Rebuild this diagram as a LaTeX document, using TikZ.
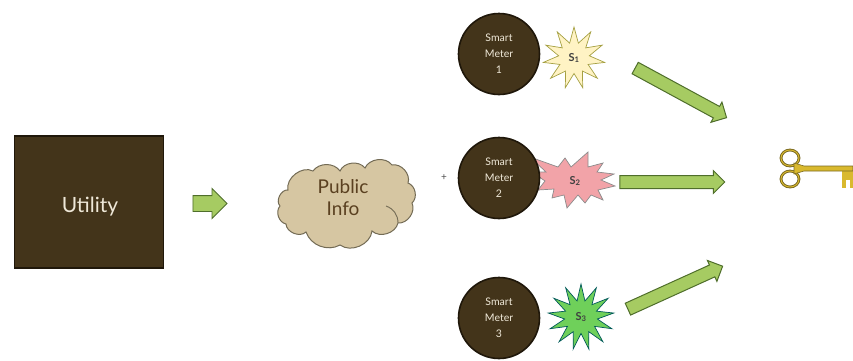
\documentclass[tikz,border=0pt]{standalone}
\usepackage{fontspec}
\setmainfont{Lato}
\usetikzlibrary{shapes.geometric,shapes.arrows}
\definecolor{brownbox}{HTML}{43341A}
\definecolor{brownline}{HTML}{1F170A}
\definecolor{arrowfill}{HTML}{A6CB62}
\definecolor{arrowline}{HTML}{4F6E2B}
\definecolor{cloudfill}{HTML}{D6C6A2}
\definecolor{cloudline}{HTML}{736B55}
\definecolor{cloudtext}{HTML}{5A4020}
\definecolor{metertext}{HTML}{EFE8D8}
\definecolor{keygold}{HTML}{D9B92E}
\definecolor{keydark}{HTML}{7A6A22}
\definecolor{burstone}{HTML}{FFF3C4}
\definecolor{bursttwo}{HTML}{F2A3A8}
\definecolor{burstthree}{HTML}{6FD05A}
\tikzset{
  meter/.style={circle,draw=brownline,line width=1.6pt,fill=brownbox,minimum size=81pt,inner sep=0pt,
    text=metertext,align=center,font=\fontsize{10.5}{16}\selectfont},
  bigarrow/.style={single arrow,draw=arrowline,line width=1pt,fill=arrowfill,inner sep=6pt,
    minimum width=21pt,single arrow head extend=5pt,single arrow head indent=0pt,minimum height=104pt,anchor=center},
  burst/.style={star,star point ratio=2.0,minimum size=62pt,inner sep=0pt,line width=.7pt,
    font=\fontsize{11}{11}\selectfont\bfseries,text=black!75},
  burstlabel/.style={font=\fontsize{11}{11}\selectfont\bfseries,text=black!75}
}
\begin{document}
\begin{tikzpicture}[x=1pt,y=-1pt]
\useasboundingbox (0,0) rectangle (853,360);
\node[rectangle,draw=brownline,line width=1.6pt,fill=brownbox,minimum width=149pt,minimum height=132pt,inner sep=0pt,
  text=metertext,font=\fontsize{21}{24}\selectfont] (utility) at (89,202) {\hspace{2pt}\raisebox{-10pt}[0pt][0pt]{Utility}};
\node[bigarrow,minimum height=34pt,inner sep=7.5pt,single arrow head extend=7pt,line width=.9pt] (a0) at (206,203.5) {};
% cloud
\draw[cloudline,fill=cloudfill,line width=1pt]
 (280,206) to[bend left=70] (288,190) to[bend left=65] (313,171) to[bend left=55] (340,171)
 to[bend left=60] (365,168) to[bend left=60] (392,165) to[bend left=60] (408,183)
 to[bend left=60] (412,203) to[bend left=60] (398,223) to[bend left=60] (372,231)
 to[bend left=60] (340,245) to[bend left=50] (306,232) to[bend left=65] (286,224) to[bend left=60] (280,206);
\draw[cloudline,line width=.9pt] (386,206) to[bend left=35] (398,223);
\node[text=cloudtext,align=center,font=\fontsize{19}{22}\selectfont] (info) at (343,198) {Public\\Info};
\node[font=\fontsize{10}{10}\selectfont,text=black!70] (plus) at (444,178) {+};
% S2 burst under the meter
\draw[draw=black!45,fill=bursttwo,line width=.7pt]
 (530,157) -- (558,167) -- (565,158) -- (571,167) -- (588,152) -- (588,167) -- (603,163) -- (597,172)
 -- (614,174) -- (601,180) -- (615,186) -- (598,190) -- (603,200) -- (591,195) -- (585,203) -- (578,195)
 -- (567,208) -- (564,195) -- (552,198) -- (554,189) -- (538,190) -- (545,181) -- (532,172) -- (546,172) -- cycle;
\node[burstlabel] (s2) at (575,181) {S\textsubscript{2}};
\node[meter] (m1) at (499,54) {Smart\\Meter\\1};
\node[meter] (m2) at (499,178) {Smart\\Meter\\2};
\node[meter] (m3) at (499,318) {Smart\\Meter\\3};
\node[burst,star points=11,draw=yellow!60!black,fill=burstone] (s1) at (574,58) {S\textsubscript{1}};
\node[burst,star points=13,draw=teal!70!black,fill=burstthree,minimum size=66pt] (s3) at (581,317) {S\textsubscript{3}};
\node[bigarrow,rotate=-28.5] (a1) at (678,91.3) {};
\node[bigarrow,minimum height=105pt] (a2) at (669,182) {};
\node[bigarrow,rotate=24.4] (a3) at (672.3,289) {};
% key
\draw[keydark,line width=2.8pt,fill=white] (790,158) ellipse[x radius=9pt,y radius=8pt];
\draw[keydark,line width=2.8pt,fill=white] (790,179) ellipse[x radius=9pt,y radius=8pt];
\draw[keygold,line width=.9pt] (790,158) ellipse[x radius=9pt,y radius=8pt];
\draw[keygold,line width=.9pt] (790,179) ellipse[x radius=9pt,y radius=8pt];
\fill[keygold] (842,168) rectangle (853,188);
\fill[white] (846,180) rectangle (850,188);
\draw[keydark,fill=keygold,line width=.6pt] (794,163) -- (804,166) -- (853,166) -- (853,171) -- (804,171) -- (794,174) -- cycle;
\end{tikzpicture}
\end{document}
